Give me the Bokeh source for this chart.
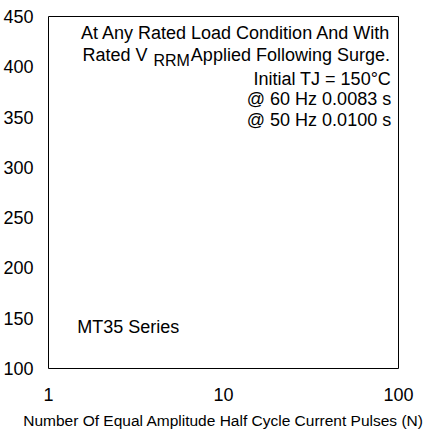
from bokeh.plotting import figure
from bokeh.models import Label, FixedTicker, Range1d
from bokeh.embed import file_html
from bokeh.resources import INLINE

# Data (axis ticks and annotation text)
x_ticks = [1, 10, 100]
x_tick_labels = ["1", "10", "100"]
y_ticks = [100, 150, 200, 250, 300, 350, 400, 450]
x_title = "Number Of Equal Amplitude Half Cycle Current Pulses (N)"
note_lines = ["At Any Rated Load Condition And With",
              "Initial TJ = 150°C",
              "@ 60 Hz 0.0083 s",
              "@ 50 Hz 0.0100 s"]
series_name = "MT35 Series"

FONT = "Liberation Sans"

p = figure(frame_width=350, frame_height=352, x_axis_type="log",
           x_range=Range1d(1, 100), y_range=Range1d(100, 450),
           output_backend="svg", toolbar_location=None,
           min_border_left=48, min_border_right=26,
           min_border_top=16, min_border_bottom=10)

p.xgrid.visible = False
p.ygrid.visible = False
p.outline_line_color = "black"
p.outline_line_width = 1
p.background_fill_color = "white"
p.border_fill_color = "white"

xa = p.xaxis[0]
xa.ticker = FixedTicker(ticks=x_ticks, minor_ticks=[])
xa.major_label_overrides = {t: l for t, l in zip(x_ticks, x_tick_labels)}
xa.axis_line_color = None
xa.major_tick_line_color = None
xa.minor_tick_line_color = None
xa.major_label_standoff = 13
xa.major_label_text_font = FONT
xa.major_label_text_font_size = "18px"
xa.major_label_text_color = "black"
xa.axis_label = x_title
xa.axis_label_text_font = FONT
xa.axis_label_text_font_size = "15.5px"
xa.axis_label_text_font_style = "normal"
xa.axis_label_text_color = "black"
xa.axis_label_standoff = 8

ya = p.yaxis[0]
ya.ticker = FixedTicker(ticks=y_ticks, minor_ticks=[])
ya.axis_line_color = None
ya.major_tick_line_color = None
ya.minor_tick_line_color = None
ya.major_label_standoff = 9
ya.major_label_text_font = FONT
ya.major_label_text_font_size = "18px"
ya.major_label_text_color = "black"

def add_label(x, y, text, align="right", size="18px", baseline="middle"):
    p.add_layout(Label(x=x, y=y, text=text, text_align=align,
                       text_baseline=baseline, text_font=FONT,
                       text_font_size=size, text_color="black"))

right_x = 90.8
add_label(right_x, 434, note_lines[0])
add_label(1.564, 412, "Rated V", align="left")
add_label(3.98, 406, "RRM", align="left", size="16px")
add_label(89.4, 412, "Applied Following Surge.")
add_label(right_x, 388, note_lines[1])
add_label(right_x, 367.5, note_lines[2])
add_label(right_x, 346.6, note_lines[3])
add_label(1.46, 141.7, series_name, align="left")

open("out.html", "w").write(file_html(p, INLINE))
